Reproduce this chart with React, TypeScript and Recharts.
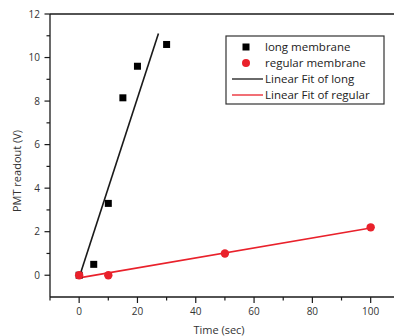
import { ComposedChart, Scatter, Line, XAxis, YAxis, ReferenceLine } from "recharts";

const longTime = [0, 5, 10, 15, 20, 30];
const longReadout = [0, 0.5, 3.3, 8.15, 9.6, 10.6];
const regularTime = [0, 10, 50, 100];
const regularReadout = [0, 0, 1.0, 2.2];
// fitted lines, end points as drawn
const longFitTime = [0, 27.2];
const longFitReadout = [-0.1, 11.1];
const regularFitTime = [0, 100];
const regularFitReadout = [-0.12, 2.17];

const xTicks = [-10, 0, 10, 20, 30, 40, 50, 60, 70, 80, 90, 100];
const yTicks = [0, 1, 2, 3, 4, 5, 6, 7, 8, 9, 10, 11, 12];

const RED = "#e9212b";
const INK = "#1a1a1a";
const FONT = "'Open Sans', sans-serif";

const zip = (xs: number[], ys: number[]) => xs.map((x, i) => ({ x, y: ys[i] }));
const longPts = zip(longTime, longReadout);
const regularPts = zip(regularTime, regularReadout);
const longFit = zip(longFitTime, longFitReadout);
const regularFit = zip(regularFitTime, regularFitReadout);

const SquareDot = (p: any) => <rect x={p.cx - 3.5} y={p.cy - 3.5} width={7} height={7} fill="#000" />;
const RoundDot = (p: any) => <circle cx={p.cx} cy={p.cy} r={4.2} fill={RED} />;

function XTick({ x, y, payload }: any) {
  const major = payload.value % 20 === 0;
  return (
    <g>
      <line x1={x} x2={x} y1={y} y2={y + (major ? 6 : 3.5)} stroke={INK} strokeWidth={1.2} />
      {major && (
        <text x={x} y={y + 18} textAnchor="middle" fontSize={10} fill="#333" fontFamily={FONT}>
          {payload.value}
        </text>
      )}
    </g>
  );
}

function YTick({ x, y, payload }: any) {
  const major = payload.value % 2 === 0;
  return (
    <g>
      <line x1={x - (major ? 5.5 : 3.5)} x2={x} y1={y} y2={y} stroke={INK} strokeWidth={1.2} />
      {major && (
        <text x={x - 10} y={y + 3.5} textAnchor="end" fontSize={10} fill="#333" fontFamily={FONT}>
          {payload.value}
        </text>
      )}
    </g>
  );
}

function Legend() {
  const rows = ["long membrane", "regular membrane", "Linear Fit of long", "Linear Fit of regular"];
  const ys = [47, 63, 79, 95];
  return (
    <svg width={394} height={336} style={{ position: "absolute", left: 0, top: 0, pointerEvents: "none" }}>
      <rect x={226} y={36} width={158} height={68} fill="#fff" stroke="#333" strokeWidth={1.2} />
      <rect x={242.5} y={ys[0] - 3.5} width={7} height={7} fill="#000" />
      <circle cx={246} cy={ys[1]} r={4} fill={RED} />
      <line x1={232} x2={263} y1={ys[2]} y2={ys[2]} stroke={INK} strokeWidth={1.3} />
      <line x1={232} x2={263} y1={ys[3]} y2={ys[3]} stroke={RED} strokeWidth={1.3} />
      {rows.map((r, i) => (
        <text key={r} x={265} y={ys[i] + 4} fontSize={11.5} fill="#222" fontFamily={FONT}>
          {r}
        </text>
      ))}
    </svg>
  );
}

export default function App() {
  return (
    <div style={{ position: "absolute", left: 0, top: 0, width: 394, height: 336, background: "#fff" }}>
      <ComposedChart width={394} height={336} margin={{ top: 14, right: 0, bottom: 0, left: 0 }}>
        <XAxis
          type="number"
          dataKey="x"
          domain={[-10, 108]}
          ticks={xTicks}
          interval={0}
          height={39}
          tickSize={0}
          tickMargin={0}
          tick={<XTick />}
          axisLine={{ stroke: INK, strokeWidth: 1.3 }}
          tickLine={false}
          allowDataOverflow
          label={() => (
            <text x={219} y={334} textAnchor="middle" fontSize={11} fill="#333" fontFamily={FONT}>
              Time (sec)
            </text>
          )}
        />
        <YAxis
          type="number"
          dataKey="y"
          domain={[-1, 12]}
          ticks={yTicks}
          interval={0}
          width={50}
          tickSize={0}
          tickMargin={0}
          tick={<YTick />}
          axisLine={{ stroke: INK, strokeWidth: 1.3 }}
          tickLine={false}
          allowDataOverflow
          label={() => (
            <text
              x={21}
              y={171}
              transform="rotate(-90 21 171)"
              textAnchor="middle"
              fontSize={11}
              fill="#333"
              fontFamily={FONT}
            >
              PMT readout (V)
            </text>
          )}
        />
        <ReferenceLine y={12} stroke={INK} strokeWidth={1.3} />
        <Line data={longFit} dataKey="y" type="linear" stroke={INK} strokeWidth={1.6} dot={false} isAnimationActive={false} />
        <Line data={regularFit} dataKey="y" type="linear" stroke={RED} strokeWidth={1.6} dot={false} isAnimationActive={false} />
        <Scatter data={longPts} dataKey="y" shape={SquareDot} isAnimationActive={false} />
        <Scatter data={regularPts} dataKey="y" shape={RoundDot} isAnimationActive={false} />
      </ComposedChart>
      <Legend />
    </div>
  );
}
